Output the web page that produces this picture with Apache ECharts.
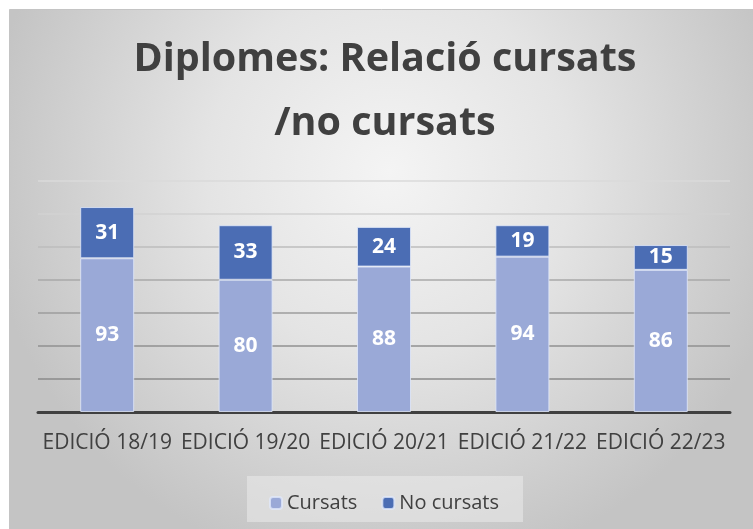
<!DOCTYPE html>
<html><head><meta charset="utf-8">
<script src="https://cdn.jsdelivr.net/npm/echarts@6/dist/echarts.min.js"></script>
<style>html,body{margin:0;padding:0;background:#fff}#chart{width:753px;height:529px}</style>
</head><body><div id="chart"></div>
<script>
const categories = ['EDICIÓ 18/19','EDICIÓ 19/20','EDICIÓ 20/21','EDICIÓ 21/22','EDICIÓ 22/23'];
const cursats = [93, 80, 88, 94, 86];
const noCursats = [31, 33, 24, 19, 15];
const titleText = 'Diplomes: Relació cursats\n/no cursats';
const seriesNames = ['Cursats', 'No cursats'];

const chart = echarts.init(document.getElementById('chart'));
const labelStyle = {show:true, position:'inside', color:'#fff', fontFamily:'Open Sans', fontWeight:'bold', fontSize:21};
chart.setOption({
  animation:false,
  graphic:[{type:'rect', z:-10, silent:true, shape:{x:9.5,y:9.5,width:760,height:540},
    style:{stroke:'#c4c4c4', lineWidth:1, fill:{type:'radial', x:0.5, y:0.3, r:0.75,
      colorStops:[{offset:0,color:'#f4f4f4'},{offset:0.45,color:'#e4e4e4'},{offset:1,color:'#c4c4c4'}]}}},
    {type:'rect', z:-9, silent:true, shape:{x:247,y:476,width:276,height:46}, style:{fill:'rgba(235,235,235,0.55)'}}],
  title:{text:titleText, left:380, textAlign:'center', top:23, textStyle:{fontFamily:'Open Sans', fontWeight:'bold', fontSize:39.5, color:'#404040', lineHeight:64}},
  grid:{left:38, right:23, top:180.6, bottom:117, containLabel:false},
  legend:{top:488, left:264, itemWidth:12, itemHeight:12, itemGap:24, data:seriesNames,
    textStyle:{fontFamily:'Open Sans', fontSize:20, color:'#404040'}},
  xAxis:{type:'category', data:categories, axisTick:{show:false},
    axisLine:{lineStyle:{color:'#404040', width:3}},
    axisLabel:{interval:0, fontFamily:'Open Sans', fontSize:21, color:'#404040', margin:21}},
  yAxis:{type:'value', min:0, max:140, interval:20, axisLabel:{show:false}, axisLine:{show:false}, axisTick:{show:false},
    splitLine:{lineStyle:{width:1.5, color:['#888','#8a8a8a','#909090','#9c9c9c','#a8a8a8','#bcbcbc','#d2d2d2','#dadada']}}},
  series:[
    {name:seriesNames[0], type:'bar', stack:'t', data:cursats, barWidth:'39%', label:labelStyle,
      itemStyle:{color:'#9aa9d7', borderColor:'rgba(225,232,250,0.8)', borderWidth:1}},
    {name:seriesNames[1], type:'bar', stack:'t', data:noCursats, barWidth:'39%', label:labelStyle,
      itemStyle:{color:'#4b6db4', borderColor:'rgba(225,232,250,0.8)', borderWidth:1}}
  ]
});
</script></body></html>
